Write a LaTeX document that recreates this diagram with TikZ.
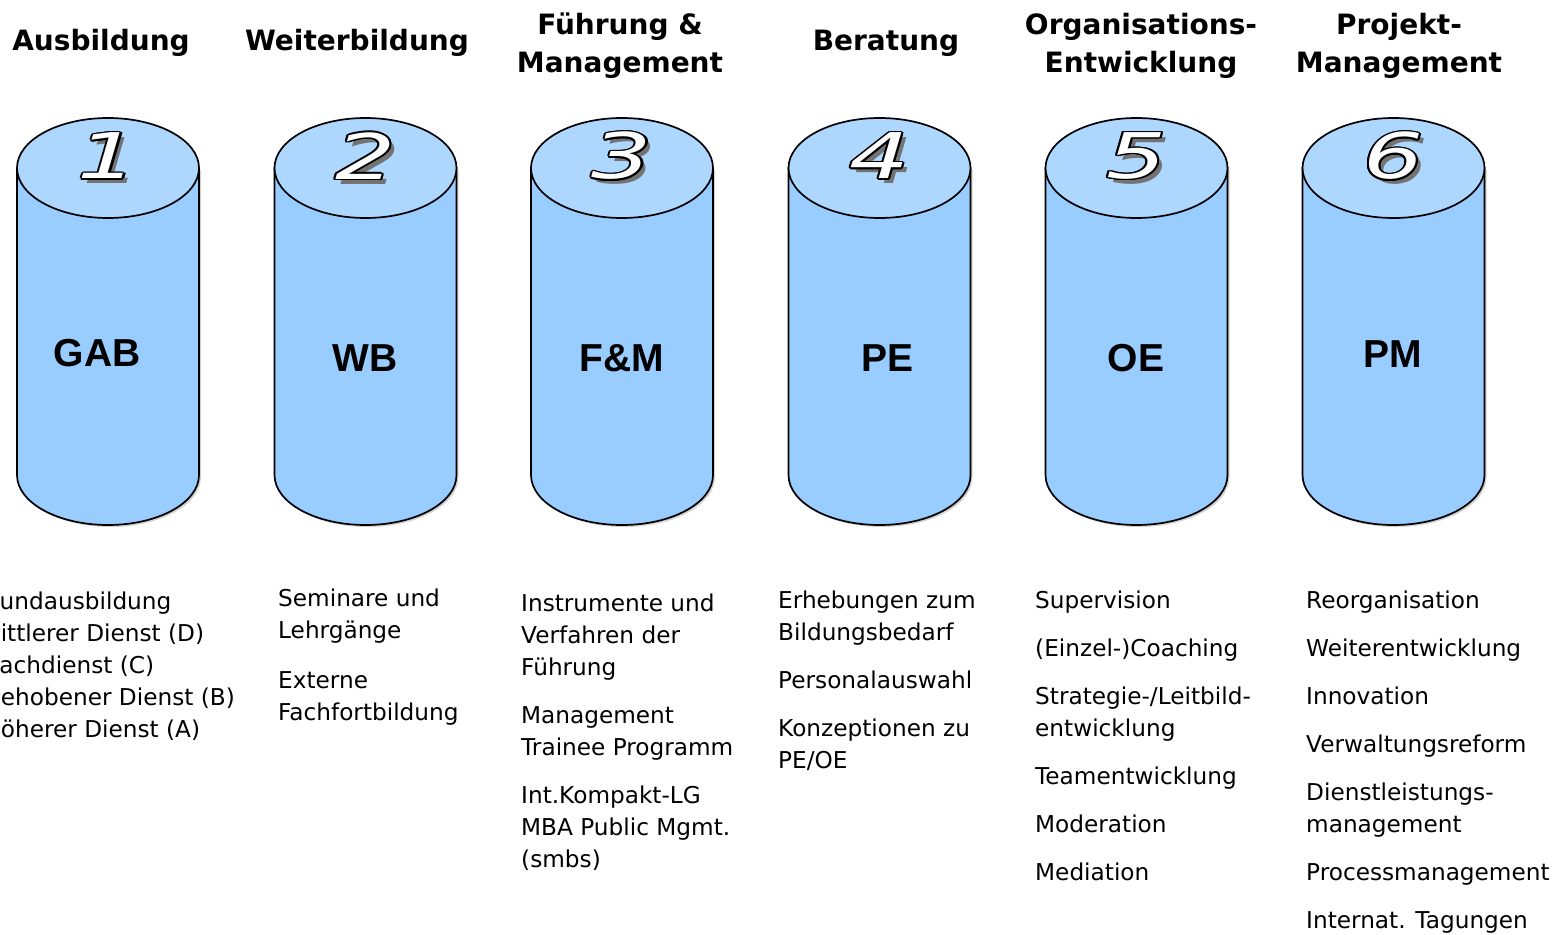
\documentclass[tikz,border=0pt]{standalone}
\usepackage{fontspec}
\setmainfont{DejaVu Sans}
\newfontfamily\lblfont{Liberation Sans}
\newfontfamily\numfont{DejaVu Sans}
\definecolor{cylside}{HTML}{99CCFF}
\definecolor{cyltop}{HTML}{AED7FF}
\newcommand\drawcyl[2]{%
  \fill[black!18] ({#1-91+2},170) -- ({#1-91+2},477) arc[start angle=180,end angle=0,x radius=91,y radius=50] -- ({#1+91+2},170) -- cycle;
  \draw[cylline, fill=cylside] ({#1-91},168) -- ({#1-91},475) arc[start angle=180,end angle=0,x radius=91,y radius=50] -- ({#1+91},168) -- cycle;
  \draw[cylline, fill=cyltop] (#1,168) ellipse[x radius=91,y radius=50];
  \coordinate (#2) at (#1,168);
}
\newcommand\cylnum[3]{%
  \node[numstyle, text=black!55] at ({#1+5},{161}) {#2};
  \foreach \a in {0,30,...,330} {\node[numstyle, text=black, shift={(\a:1.4)}] at (#1,156) {#2};}
  \node[numstyle, text=white] (#3) at (#1,156) {#2};
}
\newcommand\bl[4]{\node[bodytext] (#1) at (#2,#3) {#4};}
\begin{document}
\begin{tikzpicture}[x=1pt,y=-1pt,
  cylline/.style={line width=1.7pt},
  numstyle/.style={font=\numfont\itshape\fontsize{63}{63}\selectfont, inner sep=0, xscale=1.5},
  hdr/.style={font=\fontsize{28}{37}\selectfont\bfseries, anchor=base, inner sep=0},
  bodytext/.style={font=\fontsize{23.2}{32}\selectfont, anchor=base west, inner sep=0},
  big/.style={font=\lblfont\fontsize{39}{39}\selectfont\bfseries, anchor=base, inner sep=0}]
\fill[white] (0,0) rectangle (1554,934);
\useasboundingbox (0,0) rectangle (1554,934);

% headers
\node[hdr] (h1) at (101,51) {Ausbildung};
\node[hdr] (h2) at (357,51) {Weiterbildung};
\node[hdr] (h3a) at (620,35) {Führung \&};
\node[hdr] (h3b) at (620,72) {Management};
\node[hdr] (h4) at (886,51) {Beratung};
\node[hdr] (h5a) at (1141,35) {Organisations-};
\node[hdr] (h5b) at (1141,72) {Entwicklung};
\node[hdr] (h6a) at (1399,35) {Projekt-};
\node[hdr] (h6b) at (1399,72) {Management};

% cylinders
\drawcyl{108}{c1}
\drawcyl{365.5}{c2}
\drawcyl{622}{c3}
\drawcyl{879.5}{c4}
\drawcyl{1136.5}{c5}
\drawcyl{1393.5}{c6}

\cylnum{108}{1}{n1}
\cylnum{365.5}{2}{n2}
\cylnum{622}{3}{n3}
\cylnum{879.5}{4}{n4}
\cylnum{1136.5}{5}{n5}
\cylnum{1393.5}{6}{n6}

\node[big] (b1) at (97,366) {GAB};
\node[big] (b2) at (365,371) {WB};
\node[big] (b3) at (622,371) {F\&M};
\node[big] (b4) at (887,371) {PE};
\node[big] (b5) at (1136,371) {OE};
\node[big] (b6) at (1393,367) {PM};

% column 1
\bl{a1}{-28}{609}{Grundausbildung}
\bl{a2}{-22}{641}{mittlerer Dienst (D)}
\bl{a3}{-12}{673}{Fachdienst (C)}
\bl{a4}{-14}{705}{gehobener Dienst (B)}
\bl{a5}{-14}{737}{höherer Dienst (A)}
% column 2
\bl{w1}{278}{606}{Seminare und}
\bl{w2}{278}{638}{Lehrgänge}
\bl{w3}{278}{688}{Externe}
\bl{w4}{278}{720}{Fachfortbildung}
% column 3
\bl{f1}{521}{611}{Instrumente und}
\bl{f2}{521}{643}{Verfahren der}
\bl{f3}{521}{675}{Führung}
\bl{f4}{521}{723}{Management}
\bl{f5}{521}{755}{Trainee Programm}
\bl{f6}{521}{803}{Int.Kompakt-LG}
\bl{f7}{521}{835}{MBA Public Mgmt.}
\bl{f8}{521}{867}{(smbs)}
% column 4
\bl{p1}{778}{608}{Erhebungen zum}
\bl{p2}{778}{640}{Bildungsbedarf}
\bl{p3}{778}{688}{Personalauswahl}
\bl{p4}{778}{736}{Konzeptionen zu}
\bl{p5}{778}{768}{PE/OE}
% column 5
\bl{o1}{1035}{608}{Supervision}
\bl{o2}{1035}{656}{(Einzel-)Coaching}
\bl{o3}{1035}{704}{Strategie-/Leitbild-}
\bl{o4}{1035}{736}{entwicklung}
\bl{o5}{1035}{784}{Teamentwicklung}
\bl{o6}{1035}{832}{Moderation}
\bl{o7}{1035}{880}{Mediation}
% column 6
\bl{m1}{1306}{608}{Reorganisation}
\bl{m2}{1306}{656}{Weiterentwicklung}
\bl{m3}{1306}{704}{Innovation}
\bl{m4}{1306}{752}{Verwaltungsreform}
\bl{m5}{1306}{800}{Dienstleistungs-}
\bl{m6}{1306}{832}{management}
\bl{m7}{1306}{880}{Processmanagement}
\bl{m8}{1306}{928}{Internat. Tagungen}
\end{tikzpicture}
\end{document}
